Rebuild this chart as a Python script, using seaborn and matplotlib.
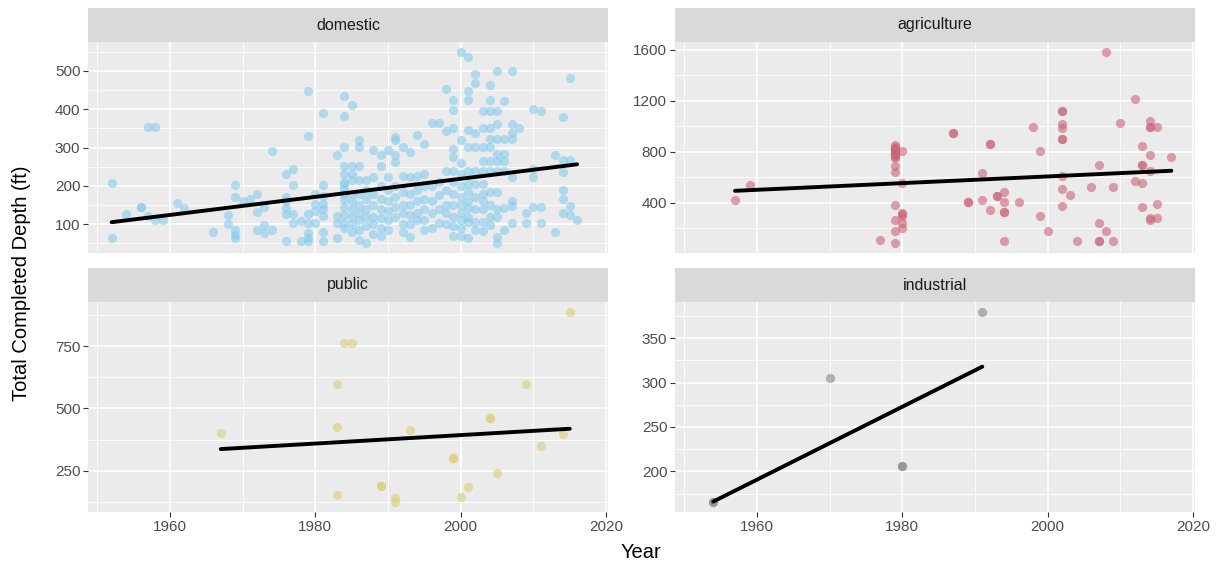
import numpy as np
import pandas as pd
import matplotlib
matplotlib.use("Agg")
import matplotlib.pyplot as plt
import seaborn as sns
from matplotlib.ticker import MultipleLocator

# ---------------- data ----------------
dom_groups = {
    1952: [207, 63], 1954: [126], 1956: [146, 146], 1957: [353, 122], 1958: [353, 110],
    1959: [110], 1961: [155], 1962: [143], 1966: [79], 1968: [124, 101],
    1969: [203, 172, 86, 73, 64], 1970: [161], 1971: [165], 1972: [178, 133, 86],
    1973: [145, 99, 77], 1974: [291, 86], 1976: [230, 172, 161, 143, 126, 57],
    1977: [243, 203, 126, 104], 1978: [108, 55], 1979: [447, 331, 126, 104, 77, 64, 55],
    1980: [178, 152, 134, 104], 1981: [390, 203, 174, 152, 139, 121, 81, 55],
    1983: [280, 121, 104, 64],
    1984: [434, 381, 302, 253, 231, 211, 205, 192, 178, 165, 145, 125, 104, 90],
    1985: [412, 253, 231, 214, 178, 160, 140, 120, 100, 80],
    1986: [319, 302, 253, 214, 178, 150, 130, 110, 85, 60],
    1987: [214, 190, 165, 140, 120, 95, 50],
    1988: [293, 222, 180, 150, 120, 100, 75],
    1989: [280, 253, 200, 165, 140, 115, 90, 70],
    1990: [293, 222, 190, 160, 135, 110, 85],
    1991: [328, 319, 280, 262, 200, 170, 145, 120],
    1992: [302, 226, 185, 150, 130, 100, 80],
    1993: [289, 222, 180, 150, 125, 100, 68],
    1994: [333, 226, 190, 160, 130, 110],
    1995: [309, 231, 200, 165, 140, 110, 85],
    1996: [364, 200, 160, 130, 90],
    1997: [364, 210, 175, 140, 104],
    1998: [452, 342, 240, 190, 150, 130, 100],
    1999: [425, 397, 350, 297, 275, 240, 210, 180, 150, 120, 95, 70],
    2000: [550, 319, 260, 230, 200, 170, 150, 130, 110, 90, 70],
    2001: [535, 447, 425, 346, 302, 240, 205, 183, 161, 143, 120, 105, 64],
    2002: [491, 469, 337, 302, 240, 205, 170, 140, 105, 86],
    2003: [396, 352, 302, 266, 240, 205, 178, 161, 140, 105, 82],
    2004: [462, 425, 396, 352, 321, 302, 266, 240, 183, 150, 120, 99],
    2005: [500, 396, 360, 321, 284, 266, 240, 183, 140, 120, 68, 50],
    2006: [421, 321, 284, 266, 240, 143, 86],
    2007: [500, 360, 337, 321, 222, 161, 148, 104],
    2008: [350], 2009: [128, 104], 2010: [401, 245, 222, 145], 2011: [396, 145, 104],
    2013: [281, 81], 2014: [380, 268, 235, 190, 165, 128], 2015: [482, 268, 148, 124],
    2016: [112],
}
dom_year = [y for y, v in dom_groups.items() for _ in v]
dom_depth = [d for v in dom_groups.values() for d in v]

agr_groups = {
    1957: [424], 1959: [542], 1977: [108],
    1979: [850, 840, 832, 825, 815, 810, 800, 790, 780, 770, 765, 755, 692, 640,
           384, 266, 181, 81],
    1980: [810, 555, 320, 310, 300, 245, 200], 1987: [945, 945], 1989: [410, 410],
    1991: [634, 424], 1992: [858, 858, 340], 1993: [450, 450],
    1994: [482, 403, 326, 326, 100], 1996: [403], 1998: [997], 1999: [810, 300],
    2000: [176], 2002: [1121, 1121, 1016, 990, 897, 897, 613, 508, 371],
    2003: [463], 2004: [100], 2006: [521], 2007: [700, 245, 100, 100],
    2008: [1587, 181], 2009: [521, 100], 2010: [1024], 2012: [1218, 569],
    2013: [845, 700, 700, 555, 363], 2014: [1042, 997, 997, 779, 647, 284, 266],
    2015: [997, 392, 284], 2017: [760],
}
agr_year = [y for y, v in agr_groups.items() for _ in v]
agr_depth = [d for v in agr_groups.values() for d in v]

pub_year = [1967, 1983, 1983, 1983, 1984, 1985, 1989, 1989, 1991, 1991, 1993,
            1999, 1999, 2000, 2001, 2004, 2004, 2005, 2009, 2011, 2014, 2015]
pub_depth = [400, 600, 426, 150, 763, 763, 188, 188, 139, 122, 413,
             300, 300, 143, 183, 460, 460, 239, 600, 350, 397, 890]

ind_year = [1954, 1954, 1970, 1980, 1980, 1991]
ind_depth = [165, 165, 305, 206, 206, 380]

facet_names = ["domestic", "agriculture", "public", "industrial"]
facet_colors = ["#88CCEE", "#CC6677", "#DDCC77", "#888888"]
x_ticks = [1960, 1980, 2000, 2020]
y_ticks = {"domestic": [100, 200, 300, 400, 500],
           "agriculture": [400, 800, 1200, 1600],
           "public": [250, 500, 750],
           "industrial": [200, 250, 300, 350]}

# ---------------- style ----------------
sns.set_style("white")
plt.rcParams["font.family"] = ["Liberation Sans", "DejaVu Sans"]

W, H = 1227, 571
fig = plt.figure(figsize=(W / 100, H / 100), dpi=100)

def fx(px):
    return px / W

def fy(py):
    return 1 - py / H

cols = [(88, 608), (675, 1195)]
rows = [(8, 42, 253), (268, 302, 512)]  # strip top, panel top, panel bottom

data = {
    "domestic": (dom_year, dom_depth),
    "agriculture": (agr_year, agr_depth),
    "public": (pub_year, pub_depth),
    "industrial": (ind_year, ind_depth),
}

all_years = dom_year + agr_year + pub_year + ind_year
xmin, xmax = min(all_years), max(all_years)
xpad = (xmax - xmin) * 0.05

for i, name in enumerate(facet_names):
    r, c = divmod(i, 2)
    x0, x1 = cols[c]
    st, pt, pb = rows[r]
    ax = fig.add_axes([fx(x0), fy(pb), fx(x1 - x0), (pb - pt) / H])
    ax.set_facecolor("#EBEBEB")
    for s in ax.spines.values():
        s.set_visible(False)
    yrs, dep = data[name]
    df = pd.DataFrame({"year": yrs, "depth": dep})
    sns.scatterplot(data=df, x="year", y="depth", ax=ax, color=facet_colors[i],
                    alpha=0.6, s=44, linewidth=0, zorder=3)
    sns.regplot(data=df, x="year", y="depth", ax=ax, scatter=False, ci=None,
                color="black", truncate=True, line_kws=dict(lw=2.8, zorder=4))
    ax.set_xlabel("")
    ax.set_ylabel("")
    ax.set_xlim(xmin - xpad, xmax + xpad)
    ymin, ymax = min(dep), max(dep)
    ypad = (ymax - ymin) * 0.05
    ax.set_ylim(ymin - ypad, ymax + ypad)
    yt = y_ticks[name]
    step = yt[1] - yt[0]
    ax.set_xticks(x_ticks)
    ax.xaxis.set_minor_locator(MultipleLocator(10))
    ax.set_yticks(yt)
    ax.yaxis.set_minor_locator(MultipleLocator(step / 2))
    ax.grid(which="major", color="white", lw=1.2)
    ax.grid(which="minor", color="white", lw=0.6)
    ax.set_axisbelow(True)
    ax.tick_params(which="major", length=3.5, width=0.8, color="#333333",
                   labelsize=11, labelcolor="#4D4D4D", pad=2)
    ax.tick_params(which="minor", length=0)
    ax.tick_params(axis="both", which="both", left=True, bottom=True)
    if r == 0:
        ax.tick_params(axis="x", which="major", length=0, labelbottom=False)
    # strip
    sax = fig.add_axes([fx(x0), fy(pt), fx(x1 - x0), (pt - st) / H])
    sax.set_facecolor("#D9D9D9")
    sax.set_xticks([])
    sax.set_yticks([])
    for s in sax.spines.values():
        s.set_visible(False)
    sax.text(0.5, 0.5, name, ha="center", va="center", fontsize=11.5,
             color="#1A1A1A", transform=sax.transAxes)

fig.text(fx(22), fy(283), "Total Completed Depth (ft)", rotation=90,
         ha="center", va="center", fontsize=14.5, color="black")
fig.text(fx(641), fy(553), "Year", ha="center", va="center", fontsize=14.5,
         color="black")

fig.savefig("out.png", dpi=100)
